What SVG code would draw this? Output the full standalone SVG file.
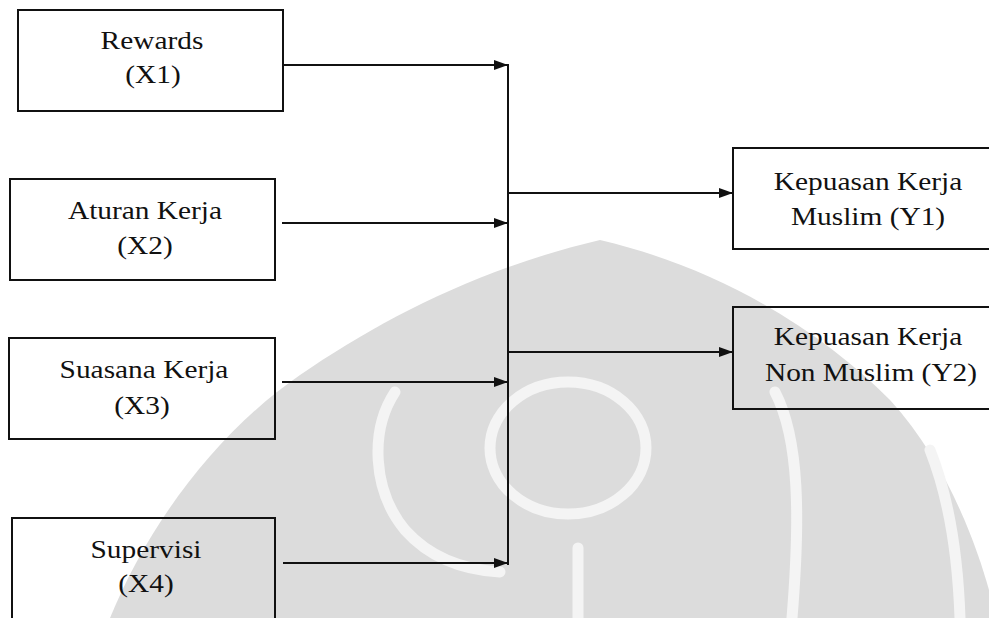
<svg xmlns="http://www.w3.org/2000/svg" width="989" height="618" viewBox="0 0 989 618">
  <style>
    .box { fill: none; stroke: #111; stroke-width: 2; }
    .lbl { font-family: "Liberation Serif", "Times New Roman", Times, serif; font-size: 26px; fill: #111; text-anchor: middle; }
    .conn { fill: none; stroke: #111; stroke-width: 2; }
    .wm-band { fill: none; stroke: #f4f4f4; stroke-width: 11; stroke-linecap: round; }
  </style>
  <defs>
    <marker id="arrow" viewBox="0 0 14 10" refX="14" refY="5" markerWidth="14" markerHeight="10" markerUnits="userSpaceOnUse" orient="auto">
      <path d="M0,0 L14,5 L0,10 Z" fill="#111"/>
    </marker>
  </defs>
  <rect width="989" height="618" fill="#fff"/>

  <g id="watermark">
    <path d="M 110,618 C 150,520 220,430 300,375 C 380,320 480,268 600,240 C 720,268 820,330 890,400 C 945,460 975,540 989,590 L 989,618 Z" fill="#dcdcdc"/>
    <path class="wm-band" d="M 395,392 C 370,430 372,490 405,530 C 430,558 465,570 500,572"/>
    <path class="wm-band" d="M 775,392 C 800,440 800,520 792,618"/>
    <ellipse class="wm-band" cx="568" cy="448" rx="78" ry="66"/>
    <path class="wm-band" d="M 578,548 L 578,618"/>
    <path class="wm-band" d="M 930,450 C 950,500 958,560 960,618" stroke-width="9"/>
  </g>

  <g id="connectors">
    <path class="conn" d="M 508,64 L 508,565"/>
    <path class="conn" d="M 283,65 L 508,65" marker-end="url(#arrow)"/>
    <path class="conn" d="M 282,223 L 508,223" marker-end="url(#arrow)"/>
    <path class="conn" d="M 282,382 L 508,382" marker-end="url(#arrow)"/>
    <path class="conn" d="M 283,563 L 508,563" marker-end="url(#arrow)"/>
    <path class="conn" d="M 508,193 L 733,193" marker-end="url(#arrow)"/>
    <path class="conn" d="M 508,352 L 733,352" marker-end="url(#arrow)"/>
  </g>

  <g id="x1">
    <rect class="box" x="18" y="10" width="265" height="101"/>
    <g transform="translate(152,0) scale(1.13,1)"><text class="lbl" x="0" y="49">Rewards</text></g>
    <g transform="translate(153,0) scale(1.13,1)"><text class="lbl" x="0" y="83">(X1)</text></g>
  </g>
  <g id="x2">
    <rect class="box" x="10" y="179" width="265" height="101"/>
    <g transform="translate(145,0) scale(1.13,1)"><text class="lbl" x="0" y="219">Aturan Kerja</text></g>
    <g transform="translate(145,0) scale(1.13,1)"><text class="lbl" x="0" y="254">(X2)</text></g>
  </g>
  <g id="x3">
    <rect class="box" x="9" y="338" width="266" height="101"/>
    <g transform="translate(144,0) scale(1.13,1)"><text class="lbl" x="0" y="378">Suasana Kerja</text></g>
    <g transform="translate(142,0) scale(1.13,1)"><text class="lbl" x="0" y="414">(X3)</text></g>
  </g>
  <g id="x4">
    <rect class="box" x="12" y="518" width="263" height="112"/>
    <g transform="translate(146,0) scale(1.13,1)"><text class="lbl" x="0" y="558">Supervisi</text></g>
    <g transform="translate(146,0) scale(1.13,1)"><text class="lbl" x="0" y="592">(X4)</text></g>
  </g>
  <g id="y1">
    <rect class="box" x="733" y="148" width="262" height="101"/>
    <g transform="translate(868,0) scale(1.13,1)"><text class="lbl" x="0" y="190">Kepuasan Kerja</text></g>
    <g transform="translate(868,0) scale(1.13,1)"><text class="lbl" x="0" y="225">Muslim (Y1)</text></g>
  </g>
  <g id="y2">
    <rect class="box" x="733" y="307" width="262" height="102"/>
    <g transform="translate(868,0) scale(1.13,1)"><text class="lbl" x="0" y="345">Kepuasan Kerja</text></g>
    <g transform="translate(871,0) scale(1.13,1)"><text class="lbl" x="0" y="381">Non Muslim (Y2)</text></g>
  </g>
</svg>
